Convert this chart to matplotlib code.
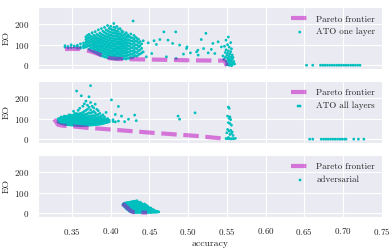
import numpy as np
import seaborn as sns
from matplotlib import pyplot as plt

sns.set_style('darkgrid')
plt.rcParams['font.family'] = ['cmr10', 'DejaVu Serif']
plt.rcParams['axes.formatter.use_mathtext'] = True
plt.rcParams['mathtext.fontset'] = 'cm'

# ---- panel 1: ATO one layer ----
one_cols = [0.341, 0.345, 0.349, 0.353, 0.357, 0.361, 0.365, 0.368, 0.370, 0.372, 0.374,
            0.376, 0.378, 0.380, 0.382, 0.384, 0.386, 0.388, 0.390, 0.392, 0.394,
            0.396, 0.398, 0.400, 0.402, 0.404, 0.406, 0.408, 0.410, 0.412, 0.414,
            0.416, 0.418, 0.420, 0.422, 0.424, 0.426, 0.428, 0.429, 0.430, 0.432,
            0.434, 0.436, 0.438, 0.440]
one_eo = [[88, 95], [84, 91], [86, 99], [93, 87], [82, 97, 90], [89, 104, 83], [92, 85, 97, 108],
          [88, 100, 112, 125, 138], [92, 105, 118, 130, 145], [78, 95, 108, 120, 135, 150],
          [72, 86, 99, 114, 128, 142], [70, 84, 97, 110, 123, 137, 158],
          [65, 80, 92, 104, 117, 131, 146], [62, 75, 88, 101, 113, 126, 140, 163],
          [58, 72, 85, 96, 109, 121, 134, 150], [54, 68, 80, 93, 106, 118, 130, 145, 172],
          [50, 64, 77, 90, 102, 115, 127, 140, 157],
          [46, 60, 73, 86, 98, 111, 124, 136, 150, 178],
          [44, 57, 70, 82, 95, 108, 120, 133, 147, 165],
          [41, 54, 67, 79, 92, 104, 117, 130, 143, 160, 184],
          [39, 52, 64, 77, 89, 101, 114, 127, 140, 155, 172],
          [37, 50, 62, 74, 87, 99, 111, 124, 137, 151, 168, 193],
          [35, 48, 60, 72, 85, 97, 109, 122, 135, 148, 163, 180],
          [33, 46, 58, 70, 83, 95, 107, 120, 132, 146, 160, 176, 189],
          [32, 45, 57, 69, 81, 93, 106, 118, 131, 144, 158, 172],
          [31, 44, 56, 68, 80, 92, 104, 117, 129, 142, 156, 170, 185, 203],
          [30, 43, 55, 67, 79, 91, 103, 116, 128, 141, 155, 168, 182],
          [30, 42, 54, 66, 78, 90, 102, 114, 127, 140, 153, 166, 188],
          [30, 42, 54, 65, 77, 89, 101, 113, 125, 138, 150, 163, 176],
          [31, 43, 55, 67, 79, 90, 102, 114, 126, 139, 152, 178],
          [32, 44, 56, 68, 80, 92, 104, 116, 128, 141, 155, 168],
          [31, 45, 58, 70, 82, 94, 106, 118, 131, 145, 162],
          [33, 47, 60, 72, 84, 96, 108, 121, 134, 150],
          [30, 44, 58, 71, 85, 98, 111, 125, 140, 158],
          [35, 50, 64, 78, 92, 106, 120, 135, 148],
          [33, 48, 63, 78, 93, 108, 123, 140],
          [38, 54, 70, 86, 102, 118, 134, 152],
          [36, 52, 68, 85, 101, 117, 133], [215],
          [42, 58, 75, 92, 110, 127, 145], [47, 65, 83, 100, 118, 137],
          [44, 62, 80, 98, 116, 130], [52, 70, 90, 108, 126], [55, 75, 95, 115],
          [60, 82, 104]]
one_tail_acc = [0.442, 0.4485, 0.456, 0.459, 0.4635, 0.4687, 0.474, 0.48, 0.484, 0.489,
                0.498, 0.503, 0.5126, 0.442, 0.453, 0.4366, 0.446, 0.472, 0.4845,
                0.511, 0.517, 0.523, 0.526, 0.52, 0.532, 0.5345, 0.5388, 0.543, 0.530,
                0.513, 0.4985, 0.494]
one_tail_eo = [119, 109, 119, 101, 125, 162, 122, 106, 162, 98, 81, 60, 73, 65, 57, 90,
               41, 41, 33, 65, 125, 155, 60, 81, 106, 57, 114, 89, 77, 49, 89, 54]
one_spike_acc = [0.552, 0.549, 0.555, 0.551, 0.547, 0.553, 0.556, 0.549, 0.552, 0.555,
                 0.548, 0.551, 0.554, 0.557, 0.550, 0.553, 0.556, 0.548, 0.551, 0.554,
                 0.557, 0.552, 0.555, 0.549, 0.553, 0.556, 0.558, 0.551, 0.554, 0.557,
                 0.560, 0.559, 0.546, 0.550, 0.553, 0.556, 0.550, 0.558, 0.545, 0.552]
one_spike_eo = [137, 122, 110, 100, 92, 88, 80, 75, 70, 66, 62, 58, 55, 50, 48, 44, 40, 38,
                35, 32, 28, 25, 22, 20, 17, 14, 10, 8, 5, 2, 6, 18, 28, 12, 0, -2, 2, 38,
                45, 30]
one_right_acc = [0.653, 0.661, 0.671, 0.674, 0.677, 0.680, 0.683, 0.686, 0.689, 0.692,
                 0.695, 0.698, 0.701, 0.704, 0.707, 0.710, 0.713, 0.716, 0.719, 0.722]
one_pareto_acc = [0.341, 0.36, 0.368, 0.375, 0.382, 0.39, 0.398, 0.41, 0.43, 0.46, 0.50,
                  0.547, 0.549, 0.55]
one_pareto_eo = [79, 79, 73, 66, 57, 45, 34, 30, 29, 27, 24, 22, 5, -3]

# ---- panel 2: ATO all layers ----
all_cols = [0.332, 0.334, 0.336, 0.338, 0.340, 0.342, 0.344, 0.346, 0.348, 0.350, 0.352,
            0.354, 0.356, 0.358, 0.360, 0.362, 0.364, 0.366, 0.368, 0.370, 0.372, 0.374,
            0.376, 0.378, 0.380, 0.382, 0.384, 0.386, 0.388, 0.390, 0.392, 0.394, 0.396,
            0.398, 0.401, 0.403, 0.406, 0.410, 0.414, 0.418, 0.423, 0.431, 0.433, 0.487,
            0.489, 0.509]
all_eo = [[82, 90, 98], [78, 86, 94, 102], [76, 84, 92, 100, 108], [74, 82, 90, 98, 106],
          [72, 80, 88, 96, 104, 112], [71, 79, 87, 95, 103, 111], [70, 78, 86, 94, 102, 110],
          [70, 77, 85, 93, 101, 109, 118], [69, 77, 85, 93, 101, 109, 117],
          [68, 76, 84, 92, 100, 108, 116], [68, 76, 84, 92, 100, 108, 118, 135],
          [67, 75, 83, 91, 99, 107, 115, 125], [67, 75, 83, 91, 99, 107, 115, 124, 234],
          [66, 74, 82, 90, 98, 106, 114, 122, 140], [66, 74, 82, 90, 98, 106, 114, 124, 150],
          [66, 74, 82, 90, 98, 106, 115, 126, 211], [66, 74, 82, 90, 98, 107, 117, 130, 160],
          [66, 74, 82, 90, 98, 108, 119, 135, 172], [67, 75, 83, 91, 99, 109, 121, 140, 185],
          [67, 75, 83, 91, 100, 110, 124, 145, 165], [68, 76, 84, 92, 101, 112, 128, 155, 206],
          [68, 76, 84, 92, 101, 112, 126, 142, 178, 260], [69, 77, 85, 93, 102, 113, 130, 160],
          [70, 78, 86, 94, 103, 115, 135, 152], [70, 78, 86, 94, 103, 114, 128, 170],
          [71, 79, 87, 95, 104, 118, 145], [72, 80, 88, 96, 105, 120, 138],
          [73, 81, 89, 97, 108, 125], [74, 82, 90, 99, 112], [76, 84, 92, 101, 118],
          [78, 86, 95, 108], [80, 88, 97, 130], [82, 90, 100], [84, 92], [191], [86, 94],
          [84, 120], [159, 88], [112], [85], [97], [117], [90], [112], [97], [128]]
all_spike_acc = [0.552, 0.553, 0.551, 0.554, 0.553, 0.555, 0.552, 0.554, 0.556, 0.551,
                 0.555, 0.553, 0.557, 0.550, 0.556, 0.554, 0.558, 0.549, 0.551, 0.553,
                 0.555, 0.557, 0.559, 0.561, 0.552, 0.642]
all_spike_eo = [156, 150, 112, 108, 101, 95, 80, 76, 68, 47, 43, 39, 35, 31, 28, 23, 18, 3,
                2, 4, 1, 3, 2, 4, 8, 161]
all_right_acc = [0.657, 0.661, 0.672, 0.675, 0.678, 0.681, 0.684, 0.687, 0.690, 0.693,
                 0.696, 0.699, 0.702, 0.704, 0.714, 0.720, 0.727]
all_pareto_acc = [0.327, 0.332, 0.337, 0.352, 0.37, 0.386, 0.40, 0.45, 0.51, 0.55]
all_pareto_eo = [97, 70, 66, 62, 55, 51, 47, 32, 16, 1]

# ---- panel 3: adversarial ----
adv_cols = [0.416, 0.418, 0.420, 0.422, 0.424, 0.426, 0.428, 0.430, 0.432, 0.434, 0.436,
            0.438, 0.440, 0.442, 0.444, 0.446, 0.448, 0.450, 0.452, 0.454, 0.456, 0.458,
            0.460, 0.462]
adv_eo = [[38, 44], [30, 36, 42, 48], [22, 28, 34, 40, 46, 50],
          [16, 22, 28, 34, 40, 46, 52], [10, 16, 22, 28, 34, 40, 46, 52],
          [6, 12, 18, 24, 30, 36, 42, 48, 54], [4, 10, 16, 22, 28, 34, 40, 46, 52, 56],
          [3, 9, 15, 21, 27, 33, 39, 45, 51, 57], [3, 9, 15, 21, 27, 33, 39, 45, 51, 58],
          [3, 9, 15, 21, 27, 33, 39, 45, 51, 60], [3, 9, 15, 21, 27, 33, 39, 45, 52],
          [3, 9, 15, 21, 27, 33, 39, 46, 53], [3, 9, 15, 21, 27, 33, 40, 47],
          [3, 9, 15, 21, 27, 34, 42], [3, 9, 15, 21, 28, 36, 44], [3, 9, 15, 22, 30, 38],
          [3, 9, 16, 24, 32], [3, 10, 18, 26], [3, 10, 18, 24], [4, 11, 18], [4, 10, 15],
          [4, 9], [5, 9], [6]]
adv_pareto_acc = [0.415, 0.418, 0.422, 0.426, 0.43, 0.44, 0.447]
adv_pareto_eo = [45, 38, 24, 10, 4, 3, 2]


def flatten(cols, eos):
    xs, ys = [], []
    for c, col in zip(cols, eos):
        for e in col:
            xs.append(c)
            ys.append(e)
    return xs, ys


x1, y1 = flatten(one_cols, one_eo)
x1 = x1 + one_tail_acc + one_spike_acc + one_right_acc
y1 = y1 + one_tail_eo + one_spike_eo + [0] * len(one_right_acc)

x2, y2 = flatten(all_cols, all_eo)
x2 = x2 + all_spike_acc + all_right_acc
y2 = y2 + all_spike_eo + [0] * len(all_right_acc)

x3, y3 = flatten(adv_cols, adv_eo)

panels = [
    (x1, y1, one_pareto_acc, one_pareto_eo, 'ATO one layer'),
    (x2, y2, all_pareto_acc, all_pareto_eo, 'ATO all layers'),
    (x3, y3, adv_pareto_acc, adv_pareto_eo, 'adversarial'),
]

fig, axes = plt.subplots(3, 1, figsize=(3.91, 2.5), dpi=100, sharex=True, sharey=True)
fig.subplots_adjust(left=0.097, right=0.98, top=0.972, bottom=0.132, hspace=0.19)

for ax, (xs, ys, px, py, name) in zip(axes, panels):
    pts = ax.scatter(xs, ys, s=4, color='c', edgecolors='none', label=name)
    line, = ax.plot(px, py, '--', color='m', alpha=0.5, lw=3, label='Pareto frontier')
    ax.set_ylabel('EO', fontsize=7)
    ax.yaxis.set_label_coords(-0.08, 0.5)
    ax.tick_params(labelsize=6.5, pad=3)
    ax.legend([line, pts], ['Pareto frontier', name], loc='upper right',
              fontsize=6.5, frameon=False)

axes[0].set_xlim(0.306, 0.752)
axes[0].set_ylim(-19, 283)
axes[0].set_yticks([0, 100, 200])
axes[0].set_xticks([0.35, 0.40, 0.45, 0.50, 0.55, 0.60, 0.65, 0.70, 0.75])
axes[2].set_xlabel('accuracy', fontsize=7, labelpad=2)

plt.savefig('out.png')
plt.close()
